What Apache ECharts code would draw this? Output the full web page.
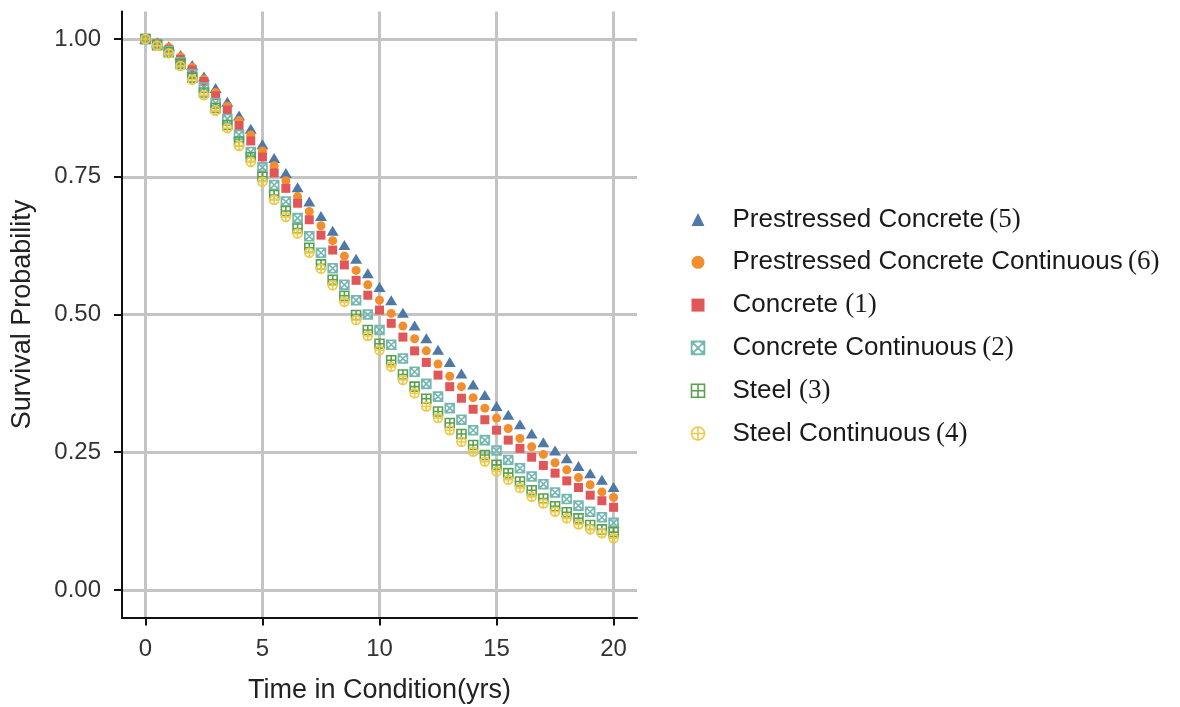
<!DOCTYPE html>
<html>
<head>
<meta charset="utf-8">
<script src="https://cdn.jsdelivr.net/npm/echarts@6/dist/echarts.min.js"></script>
<style>
html,body{margin:0;padding:0;background:#fff;}
#chart{width:1180px;height:707px;}
</style>
</head>
<body>
<div id="chart"></div>
<script>
// ---- data ----
const years = [0,0.5,1,1.5,2,2.5,3,3.5,4,4.5,5,5.5,6,6.5,7,7.5,8,8.5,9,9.5,10,10.5,11,11.5,12,12.5,13,13.5,14,14.5,15,15.5,16,16.5,17,17.5,18,18.5,19,19.5,20];
const xTicks = [0,5,10,15,20];
const yTicks = [0,0.25,0.5,0.75,1];

const prestressedConcrete = [1.000,0.994,0.987,0.971,0.953,0.932,0.911,0.886,0.861,0.837,0.809,0.784,0.757,0.731,0.705,0.679,0.652,0.626,0.601,0.575,0.550,0.526,0.503,0.480,0.457,0.436,0.414,0.393,0.373,0.354,0.334,0.318,0.301,0.284,0.268,0.253,0.239,0.225,0.212,0.200,0.187];
const prestressedConcreteCont = [1.000,0.993,0.985,0.968,0.949,0.927,0.903,0.878,0.852,0.826,0.797,0.770,0.743,0.714,0.687,0.661,0.634,0.606,0.580,0.554,0.526,0.502,0.479,0.456,0.434,0.410,0.388,0.369,0.349,0.330,0.312,0.293,0.275,0.260,0.246,0.231,0.218,0.204,0.191,0.178,0.168];
const concrete = [1.000,0.992,0.981,0.963,0.944,0.923,0.897,0.871,0.843,0.815,0.786,0.757,0.729,0.702,0.672,0.644,0.617,0.590,0.562,0.535,0.508,0.484,0.459,0.434,0.413,0.390,0.369,0.348,0.328,0.309,0.290,0.272,0.257,0.241,0.226,0.212,0.198,0.186,0.172,0.162,0.150];
const concreteCont = [1.000,0.990,0.978,0.958,0.936,0.912,0.884,0.855,0.826,0.795,0.767,0.735,0.705,0.675,0.642,0.612,0.584,0.554,0.526,0.500,0.472,0.445,0.420,0.396,0.374,0.351,0.330,0.309,0.290,0.272,0.253,0.236,0.221,0.206,0.192,0.177,0.165,0.153,0.142,0.132,0.122];
const steel = [1.000,0.989,0.976,0.955,0.930,0.903,0.875,0.844,0.814,0.786,0.750,0.717,0.688,0.656,0.621,0.591,0.563,0.534,0.499,0.472,0.447,0.417,0.391,0.369,0.347,0.324,0.303,0.283,0.263,0.245,0.227,0.212,0.197,0.181,0.166,0.152,0.141,0.130,0.118,0.110,0.105];
const steelCont = [1.000,0.988,0.974,0.951,0.926,0.898,0.870,0.838,0.806,0.777,0.741,0.708,0.677,0.647,0.612,0.583,0.553,0.523,0.490,0.461,0.435,0.405,0.381,0.357,0.333,0.312,0.290,0.269,0.251,0.233,0.215,0.200,0.185,0.169,0.157,0.142,0.130,0.119,0.110,0.103,0.094];

const seriesNames = ['Prestressed Concrete','Prestressed Concrete Continuous','Concrete','Concrete Continuous','Steel','Steel Continuous'];
const seriesTags = ['(5)','(6)','(1)','(2)','(3)','(4)'];
const seriesValues = [prestressedConcrete, prestressedConcreteCont, concrete, concreteCont, steel, steelCont];

// ---- styles ----
const colors = ['#4e79a7','#f28e2b','#e15759','#76b7b2','#59a14f','#edc948'];
const P_SQ_X_CIRC = 'path://M0,0L20,0L20,20L0,20Z M10,0A10,10 0 1 1 10,20A10,10 0 1 1 10,0Z M0,0L20,20 M20,0L0,20';
const P_SQ_PLUS = 'path://M0,0L20,0L20,20L0,20Z M10,0L10,20 M0,10L20,10';
const P_CIRC_PLUS = 'path://M10,0A10,10 0 1 1 10,20A10,10 0 1 1 10,0Z M10,0L10,20 M0,10L20,10';
const symbols = ['triangle','circle','rect',P_SQ_X_CIRC,P_SQ_PLUS,P_CIRC_PLUS];
const sizes = [[12,10],9,9,9,9,9];
const outlined = [false,false,false,true,true,true];

const chart = echarts.init(document.getElementById('chart'), null, {renderer:'canvas'});

const series = seriesNames.map((name, k) => ({
  name: name,
  type: 'scatter',
  symbol: symbols[k],
  symbolSize: sizes[k],
  z: 2 + k,
  itemStyle: outlined[k]
    ? {color: 'none', borderColor: colors[k], borderWidth: 1.6, opacity: 1}
    : {color: colors[k], opacity: 1},
  emphasis: {disabled: true},
  data: years.map((x, i) => [x, seriesValues[k][i]])
}));

const legendData = seriesNames.map((name, k) => ({
  name: name,
  itemStyle: outlined[k] ? {borderWidth: 1.6, borderColor: colors[k], color: 'none'} : {borderWidth: 0, color: colors[k]}
}));

const axisTxt = {fontFamily: 'Liberation Sans', fontSize: 24, color: '#333'};

chart.setOption({
  backgroundColor: '#fff',
  animation: false,
  grid: {left: 122, top: 11.5, width: 515, height: 606, containLabel: false, outerBoundsMode: 'none'},
  xAxis: {
    type: 'value', min: -1, max: 21,
    name: 'Time in Condition(yrs)', nameLocation: 'middle', nameGap: 60,
    nameTextStyle: {fontFamily: 'Liberation Sans', fontSize: 27, color: '#222'},
    axisLine: {show: true, onZero: false, lineStyle: {color: '#111', width: 2}},
    axisTick: {show: true, length: 8, customValues: xTicks, lineStyle: {color: '#111', width: 2}},
    axisLabel: {customValues: xTicks, margin: 20, ...axisTxt, formatter: v => String(v)},
    splitLine: {show: true, lineStyle: {color: '#c4c4c4', width: 3}}
  },
  yAxis: {
    type: 'value', min: -0.05, max: 1.05,
    name: 'Survival Probability', nameLocation: 'middle', nameGap: 86, nameRotate: 90,
    nameTextStyle: {fontFamily: 'Liberation Sans', fontSize: 27, color: '#222'},
    axisLine: {show: true, onZero: false, lineStyle: {color: '#111', width: 2}},
    axisTick: {show: true, length: 8, customValues: yTicks, lineStyle: {color: '#111', width: 2}},
    axisLabel: {customValues: yTicks, margin: 21, ...axisTxt, formatter: v => v.toFixed(2)},
    splitLine: {show: true, lineStyle: {color: '#c4c4c4', width: 3}}
  },
  legend: {
    orient: 'vertical', left: 684, top: 201,
    itemWidth: 13, itemHeight: 13, itemGap: 15.8,
    selectedMode: false,
    data: legendData,
    formatter: name => {
      const k = seriesNames.indexOf(name);
      const spaced = (name === 'Concrete' || name === 'Steel');
      return '{a|' + name + (spaced ? ' ' : '') + '}{b|' + (spaced ? '' : '\u2009') + seriesTags[k] + '}';
    },
    textStyle: {
      rich: {
        a: {fontFamily: 'Liberation Sans', fontSize: 26, color: '#1a1a1a', lineHeight: 24, padding: [0, 0, 0, 23]},
        b: {fontFamily: 'Liberation Serif', fontSize: 27, color: '#1a1a1a', lineHeight: 24}
      }
    }
  },
  series: series
});
</script>
</body>
</html>
